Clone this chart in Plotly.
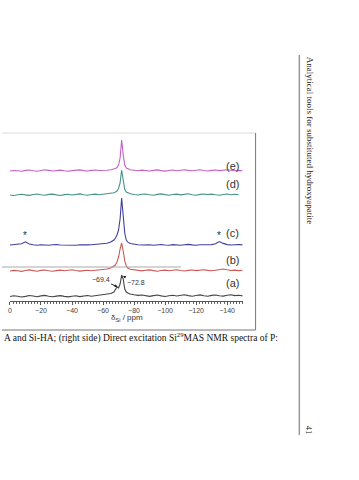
import plotly.graph_objects as go

# ---- data (chemical shift in ppm, intensities in arbitrary units) ----
ppm = [0, -2.5, -5, -7.5, -10, -12.5, -15, -17.5, -20, -22.5, -25, -27.5, -30,
       -32.5, -35, -37.5, -40, -42.5, -45, -47.5, -50, -52.5, -55, -57.5, -60,
       -62.5, -65, -67, -68, -69, -70, -71, -72, -73, -74, -75, -76, -77.5, -80,
       -82.5, -85, -87.5, -90, -92.5, -95, -97.5, -100, -102.5, -105, -107.5,
       -110, -112.5, -115, -117.5, -120, -122.5, -125, -127.5, -130, -132.5,
       -135, -137.5, -140, -142.5, -145, -147.5, -150]

spec_a = [0.5, 1.3, 0.8, 0, 0.6, 1.5, 1.0, 0.3, 1.1, 1.6, 0.7, 0.2, 0.9, 1.4, 0.6, 0.1, 0.8, 1.3, 0.4, 0.9, 1.5, 0.8, 1.2, 1.8, 2.2,
          2.6, 3.5, 5, 7.5, 10, 9, 13, 22, 18, 8, 5, 4, 3, 2.2,
          1.6, 2.0, 1.2, 0.6, 1.4, 2.0, 1.1, 0.5, 1.3, 1.8, 1.0, 1.6, 2.2, 1.4, 0.8, 1.5, 2.1, 1.2, 0.7, 1.6, 2.0, 1.3, 0.9, 1.7, 2.2, 1.4, 1.8, 1.1]
spec_b = [0, 0.6, 0.2, -0.4, 0.5, 1.1, 0.4, -0.2, 0.6, 1.0, 0.3, -0.3, 0.4, 0.9, 0.2, 0.7, 1.2, 0.5, -0.1, 0.4, 0.8, 0.2, 0.6, 1.0, 1.3,
          2, 3, 4.5, 6, 9, 14, 22, 28, 20, 10, 5, 3, 1.8, 1,
          0.5, 0.1, 0.7, 1.1, 0.4, -0.2, 0.5, 0.9, 0.3, 0.8, 1.2, 0.5, 0, 0.6, 1.0, 0.4, 0.9, 1.3, 0.6, 0.2, 0.8, 1.6, 2.0, 1.2, 0.5, 0.9, 0.4, 0.7]
spec_c = [0, 0.3, 0.5, 1.3, 3.2, 1.0, 0.2, -0.2, 0.3, 0, -0.3, 0.2, 0.5, 0, -0.2, 0.3, 0.1, -0.3, 0.2, 0.5, 0.1, 0.3, 0.6, 0.9, 1.2,
          1.8, 3, 5, 7, 10, 15, 26, 47, 28, 12, 5, 2.8, 1.5, 0.7,
          0.3, 0, 0.4, 0.2, -0.2, 0.3, 0.5, 0, -0.2, 0.4, 0.1, -0.3, 0.2, 0.6, 0.1, -0.2, 0.3, 0.5, 0, 0.4, 1.2, 3.5, 1.6, 0.4, 0, 0.3, 0.5, 0.1]
spec_d = [0, -0.5, 0.3, 0.8, 0.1, -0.4, 0.5, 1.0, 0.2, -0.3, 0.6, 0.9, 0.1, -0.5, 0.4, 0.8, 0, 0.6, 1.1, 0.3, -0.2, 0.5, 0.9, 0.2, 0.6,
          1.0, 1.5, 2.2, 3, 4, 6.5, 12, 25, 13, 5.5, 3, 2, 1.2, 0.5,
          0, 0.7, 1.0, 0.2, -0.3, 0.6, 1.1, 0.4, -0.2, 0.5, 0.9, 0.1, 0.7, 1.2, 0.3, -0.2, 0.6, 1.0, 0.4, 0.9, 0.2, -0.3, 0.5, 1.0, 0.3, 0.8, 0.2]
spec_e = [0, 0.5, 0.2, -0.3, 0.6, 1.0, 0.3, -0.2, 0.5, 1.2, 0.6, 0, 0.4, 0.9, 0.3, -0.2, 0.4, 0.8, 1.1, 0.4, 0, 0.6, 1.0, 0.5, 0.3,
          0.8, 1.2, 1.8, 2.5, 3.5, 6, 13, 31, 16, 6, 3, 2, 1.2, 0.8,
          0.3, 0.9, 0.5, 0, 0.6, 1.1, 0.4, -0.1, 0.5, 1.0, 0.3, 0.8, 1.3, 0.6, 0.2, 0.7, 1.2, 0.5, 0, 0.6, 1.0, 0.4, 0.8, 1.3, 0.7, 0.2, 0.6, 0.3]

labels = ["(a)", "(b)", "(c)", "(d)", "(e)"]
spectra = [spec_a, spec_b, spec_c, spec_d, spec_e]
offsets = [4, 30, 56, 106, 130]
colors = ["#444444", "#c95a58", "#40409a", "#46938a", "#c560c6"]
label_py = [283, 260, 233, 184, 158]

peak_labels = ["\u221269.4", "\u221272.8"]
peak_ppm = [-69.4, -72.8]
sideband_ppm = [-10, -135]

W, H = 359, 480
def px(x):
    return x / W
def py(y):
    return 1 - y / H

fig = go.Figure()
for s, off, col in zip(spectra, offsets, colors):
    fig.add_trace(go.Scatter(x=ppm, y=[v + off for v in s], mode="lines",
                             line=dict(color=col, width=1.1), showlegend=False,
                             hoverinfo="skip"))

fig.update_layout(
    width=W, height=H, margin=dict(l=0, r=0, t=0, b=0),
    paper_bgcolor="white", plot_bgcolor="white",
    xaxis=dict(domain=[px(8), px(242)], range=[0, -150], dtick=20,
               showgrid=False, zeroline=False, showline=True, linecolor="#555",
               linewidth=1, ticks="outside", ticklen=3, tickcolor="#555",
               tickwidth=1,
               minor=dict(dtick=2, ticks="outside", ticklen=2, tickcolor="#666"),
               tickfont=dict(family="Liberation Sans", size=7, color="#444"),
               anchor="y"),
    yaxis=dict(domain=[py(301), py(133)], range=[0, 168], visible=False,
               showgrid=False, zeroline=False),
)

ann = []
for lab, ly in zip(labels, label_py):
    ann.append(dict(x=px(232), y=py(ly), xref="paper", yref="paper", text=lab,
                    showarrow=False, font=dict(family="Liberation Sans", size=11, color="#333")))
for sb in sideband_ppm:
    ann.append(dict(x=sb, y=offsets[2] + 10, xref="x", yref="y", text="*",
                    showarrow=False, font=dict(family="Liberation Sans", size=10, color="#333")))
# peak annotations on spectrum (a)
ann.append(dict(x=peak_ppm[0], y=offsets[0] + 10, xref="x", yref="y", text=peak_labels[0],
                showarrow=True, arrowhead=2, arrowsize=0.6, arrowwidth=1, arrowcolor="#222",
                ax=-17, ay=-8, font=dict(family="Liberation Sans", size=7, color="#333")))
ann.append(dict(x=peak_ppm[1], y=offsets[0] + 21, xref="x", yref="y", text=peak_labels[1],
                showarrow=True, arrowhead=2, arrowsize=0.6, arrowwidth=1, arrowcolor="#222",
                ax=13, ay=6, font=dict(family="Liberation Sans", size=7, color="#333")))
ann.append(dict(x=px(108), y=py(318), xref="paper", yref="paper",
                text="\u03b4<sub>Si</sub> / ppm", showarrow=False,
                font=dict(family="Liberation Sans", size=8, color="#333")))
# page text
ann.append(dict(x=0, y=py(346), xref="paper", yref="paper", xanchor="left",
                text="A and Si-HA; (right side) Direct excitation Si<sup>29</sup>MAS NMR spectra of P:",
                showarrow=False, font=dict(family="Liberation Serif", size=9.5, color="#111")))
ann.append(dict(x=px(310), y=py(140), xref="paper", yref="paper", textangle=90,
                xanchor="center", yanchor="middle",
                text="Analytical tools for substituted hydroxyapatite",
                showarrow=False, font=dict(family="Liberation Serif", size=9, color="#222")))
ann.append(dict(x=px(309), y=py(430), xref="paper", yref="paper", textangle=90,
                xanchor="center", yanchor="middle",
                text="41", showarrow=False,
                font=dict(family="Liberation Serif", size=8.5, color="#222")))
fig.update_layout(annotations=ann)

shapes = [
    dict(type="line", xref="paper", yref="paper", x0=px(0), x1=px(255), y0=py(133), y1=py(133),
         line=dict(color="#dcdcdc", width=1)),
    dict(type="line", xref="paper", yref="paper", x0=px(255), x1=px(255), y0=py(133), y1=py(330),
         line=dict(color="#777", width=1)),
    dict(type="line", xref="paper", yref="paper", x0=px(0), x1=px(255), y0=py(330), y1=py(330),
         line=dict(color="#777", width=1)),
    dict(type="line", xref="paper", yref="paper", x0=px(0), x1=px(180), y0=py(267), y1=py(267),
         line=dict(color="#aaa", width=1)),
    dict(type="line", xref="paper", yref="paper", x0=px(299), x1=px(299), y0=py(55), y1=py(435),
         line=dict(color="#999", width=1.5)),
]
fig.update_layout(shapes=shapes)

fig.write_html("out.html", config={"displayModeBar": False},
               post_script="document.body.style.margin='0';")
